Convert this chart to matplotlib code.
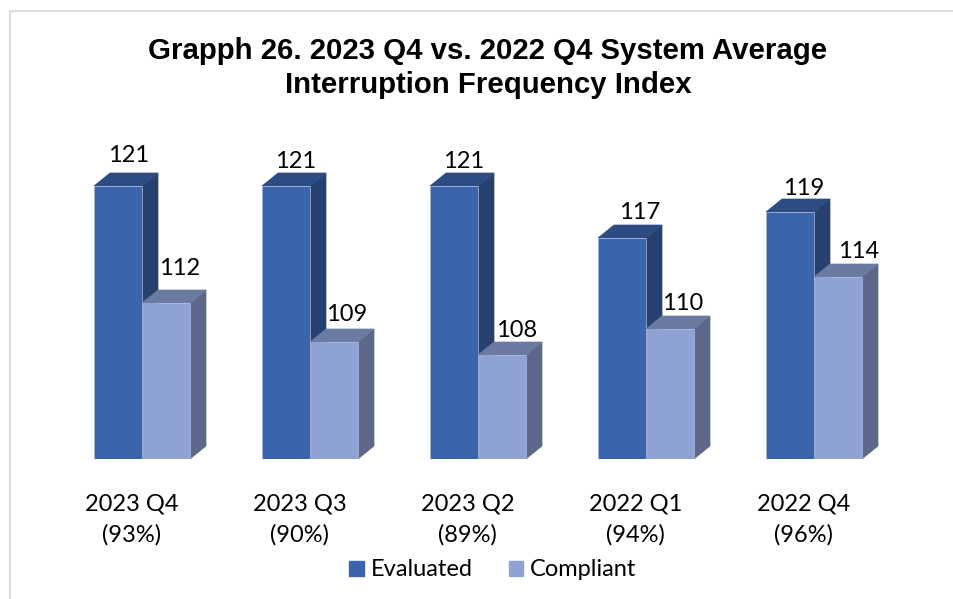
import numpy as np
import matplotlib.pyplot as plt
from matplotlib.patches import Patch, Rectangle

# Data
quarters = ['2023 Q4\n(93%)', '2023 Q3\n(90%)', '2023 Q2\n(89%)', '2022 Q1\n(94%)', '2022 Q4\n(96%)']
evaluated = [121, 121, 121, 117, 119]
compliant = [112, 109, 108, 110, 114]

# label offsets from bar's top-left corner, px (the labels were hand placed)
eval_off = [(35, 31), (34, 25), (34, 25), (42, 26), (38, 24)]
comp_off = [(38, 35), (37, 28), (39, 25), (37, 26), (45, 26)]

W, H = 954, 599
base_px = 459
px_per_unit = 13.0
pitch = 168.0
x0_px = 142.0

fig = plt.figure(figsize=(W / 100, H / 100), dpi=100)
ax = fig.add_axes([0, (H - base_px) / H, 1, base_px / H])
ax.set_xlim(-x0_px / pitch, (W - x0_px) / pitch)
ax.set_ylim(100, 100 + base_px / px_per_unit)

bar_w = 48 / pitch
dx = 16 / pitch
dy = 13 / px_per_unit
x = np.arange(len(quarters))


def bar3d(xl, val, front, side, top, z):
    # side and top faces first, then the front through ax.bar
    ax.fill([xl + bar_w, xl + bar_w + dx, xl + bar_w + dx, xl + bar_w],
            [100, 100 + dy, val + dy, val], color=side, lw=0.5, ec=side, zorder=z)
    ax.fill([xl, xl + dx, xl + bar_w + dx, xl + bar_w],
            [val, val + dy, val + dy, val], color=top, lw=0.5, ec=top, zorder=z)
    ax.bar(xl, val - 100, bar_w, bottom=100, align='edge', color=front, lw=0.5, ec='#a9b8dc', zorder=z + 0.1)


for i in x:
    bar3d(i - bar_w, evaluated[i], '#3a64ac', '#264070', '#2d4c82', 2)
    bar3d(i, compliant[i], '#8fa2d4', '#5c6888', '#6b7aa0', 3)
    ax.annotate(str(evaluated[i]), (i - bar_w, evaluated[i]), xytext=eval_off[i], textcoords='offset pixels',
                ha='center', va='center', family='Lato', fontsize=17, color='black', zorder=5)
    ax.annotate(str(compliant[i]), (i, compliant[i]), xytext=comp_off[i], textcoords='offset pixels',
                ha='center', va='center', family='Lato', fontsize=17, color='black', zorder=5)

ax.set_xticks(x - 10.5 / pitch)
ax.set_xticklabels(quarters, family='Lato', fontsize=17, linespacing=1.55)
ax.tick_params(axis='x', length=0, pad=25)
ax.set_yticks([])
for s in ax.spines.values():
    s.set_visible(False)
ax.patch.set_alpha(0)

# chart frame, runs off the right and bottom of the image
fig.add_artist(Rectangle((10 / W, -0.05), 1.1, 1.05 - 11 / H, transform=fig.transFigure,
                         fill=False, ec='#dcdcdc', lw=1.5))

fig.text(488 / W, 1 - 68 / H, 'Grapph 26. 2023 Q4 vs. 2022 Q4 System Average\nInterruption Frequency Index',
         ha='center', va='center', family='Liberation Sans', fontweight='bold', fontsize=21.2, linespacing=1.25)

handles = [Patch(color='#3a64ac', label='Evaluated'), Patch(color='#8fa2d4', label='Compliant')]
fig.legend(handles=handles, loc='center', bbox_to_anchor=(493 / W, 1 - 570 / H), ncol=2, frameon=False,
           prop={'family': 'Lato', 'size': 17}, handlelength=0.62, handleheight=0.62, handletextpad=0.3,
           columnspacing=1.5, borderpad=0, labelcolor='black')

plt.savefig('out.png', dpi=100)
